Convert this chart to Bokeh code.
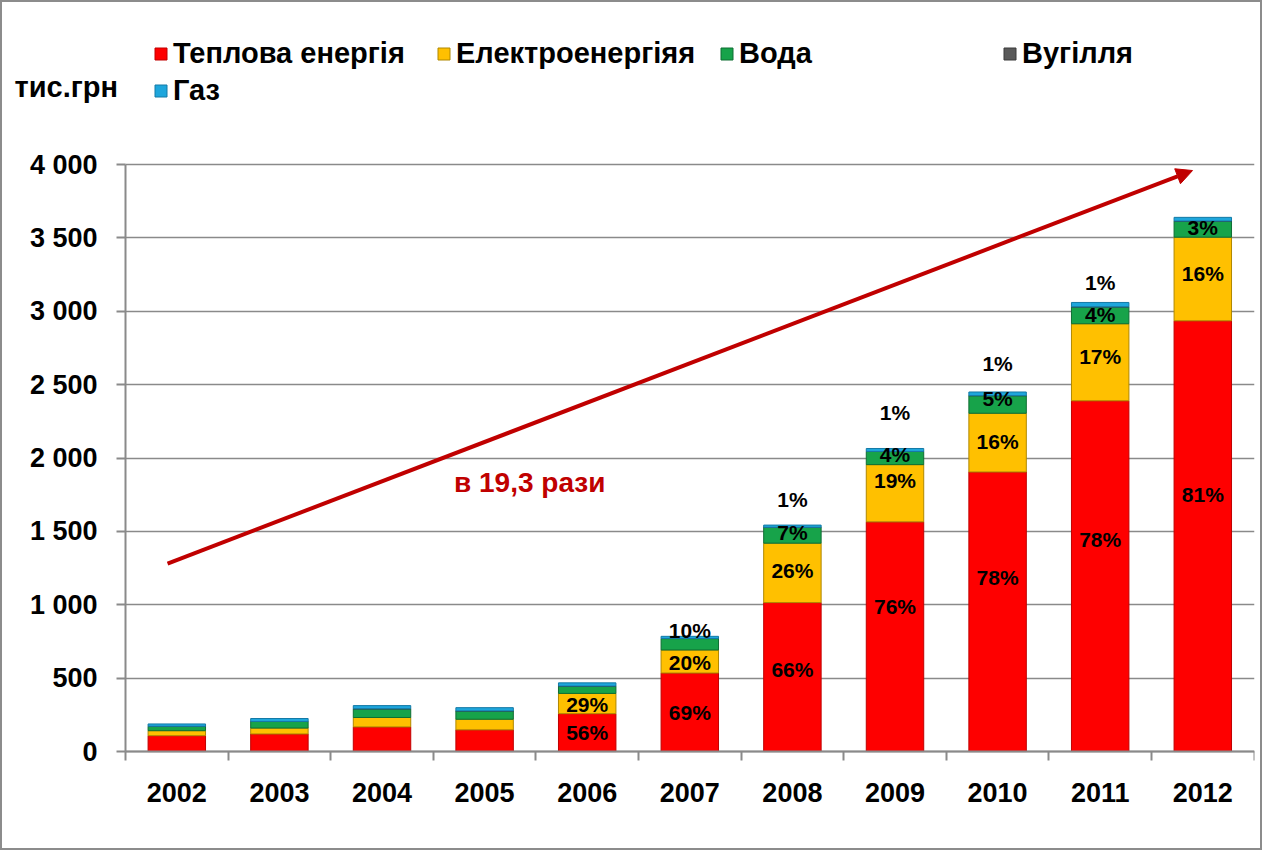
from bokeh.plotting import figure
from bokeh.models import (ColumnDataSource, FixedTicker, Range1d, Legend, LegendItem,
                          Label, Arrow, NormalHead, Grid)
from bokeh.core.properties import value
from bokeh.embed import file_html
from bokeh.resources import INLINE

# ---- data ----
years = ["2002", "2003", "2004", "2005", "2006", "2007", "2008", "2009", "2010", "2011", "2012"]
heat = [108, 120, 168, 148, 258, 535, 1015, 1565, 1905, 2390, 2935]
elec = [34, 40, 64, 72, 138, 157, 405, 390, 400, 525, 570]
water = [30, 45, 59, 57, 50, 78, 108, 90, 120, 115, 110]
coal = [0, 0, 0, 0, 0, 0, 0, 0, 0, 0, 0]
gas = [16, 20, 22, 22, 22, 15, 15, 20, 25, 30, 25]

series_names = ["Теплова енергія", "Електроенергіяя", "Вода", "Вугілля", "Газ"]

y_ticks = [0, 500, 1000, 1500, 2000, 2500, 3000, 3500, 4000]
y_tick_labels = ["0", "500", "1 000", "1 500", "2 000", "2 500", "3 000", "3 500", "4 000"]

# percentage labels: (year index, value position, text)
lab_year = [4, 4, 5, 5, 5, 6, 6, 6, 6, 7, 7, 7, 7, 8, 8, 8, 8, 9, 9, 9, 9, 10, 10, 10]
lab_val = [129, 320, 266, 606, 825, 559, 1233, 1492, 1717, 988, 1847, 2024, 2310,
           1186, 2112, 2405, 2644, 1445, 2692, 2978, 3196, 1751, 3257, 3571]
lab_text = ["56%", "29%", "69%", "20%", "10%", "66%", "26%", "7%", "1%", "76%", "19%", "4%", "1%",
            "78%", "16%", "5%", "1%", "78%", "17%", "4%", "1%", "81%", "16%", "3%"]

growth_text = "в 19,3 рази"
unit_text = "тис.грн"

# ---- styles ----
FONT = "Liberation Sans"
GRID = "#8a8a8a"
fills = ["#fe0000", "#ffc000", "#17a34a", "#5a5a5a", "#1ea6dc"]
lines = ["#c00000", "#b08800", "#0f6e33", "#3a3a3a", "#147aa6"]

n = len(years)
x_idx = list(range(n))
X0, X1 = -0.5, n - 0.5          # plotting area in category units
Y0, Y1 = y_ticks[0], y_ticks[-1]
src = ColumnDataSource(dict(x=x_idx, heat=heat, elec=elec, water=water, coal=coal, gas=gas))

# the frame covers the whole box (legend/unit label live inside it); axes are pinned
p = figure(width=1262, height=850, output_backend="svg", toolbar_location=None,
           x_range=Range1d(-1.699, 10.504), y_range=Range1d(-688, 5104),
           min_border_left=0, min_border_right=10, min_border_top=0, min_border_bottom=0)
p.styles = {"border": "2px solid #8c8c8c"}
p.outline_line_color = None
p.background_fill_color = "white"

# grid lines (restricted to the plotting area)
p.xgrid.visible = False
if "cross_bounds" in Grid.properties():
    p.ygrid.ticker = FixedTicker(ticks=y_ticks)
    p.ygrid.cross_bounds = (X0, X1)
    p.ygrid.grid_line_color = GRID
    p.ygrid.grid_line_width = 1.6
else:
    p.ygrid.visible = False
    p.segment(x0=[X0] * len(y_ticks), x1=[X1] * len(y_ticks), y0=y_ticks, y1=y_ticks,
              line_color=GRID, line_width=1.6)

renderers = p.vbar_stack(["heat", "elec", "water", "coal", "gas"], x="x", width=0.56, source=src,
                         fill_color=fills, line_color=lines, line_width=1)

# y axis pinned at the left edge of the plotting area
p.yaxis.fixed_location = X0
p.yaxis.bounds = (Y0, Y1)
p.yaxis.ticker = FixedTicker(ticks=y_ticks)
p.yaxis.major_label_overrides = {t: l for t, l in zip(y_ticks, y_tick_labels)}
p.yaxis.axis_line_color = GRID
p.yaxis.axis_line_width = 2
p.yaxis.major_tick_line_color = GRID
p.yaxis.major_tick_line_width = 2
p.yaxis.major_tick_out = 9
p.yaxis.major_tick_in = 0
p.yaxis.minor_tick_line_color = None
p.yaxis.major_label_standoff = 19
p.yaxis.major_label_text_font = FONT
p.yaxis.major_label_text_font_style = "bold"
p.yaxis.major_label_text_font_size = "27px"
p.yaxis.major_label_text_color = "black"

# x axis pinned at value 0
p.xaxis.fixed_location = Y0
p.xaxis.bounds = (X0, X1)
p.xaxis.ticker = FixedTicker(ticks=x_idx, minor_ticks=[i - 0.5 for i in range(n + 1)])
p.xaxis.major_label_overrides = {i: y for i, y in zip(x_idx, years)}
p.xaxis.axis_line_color = GRID
p.xaxis.axis_line_width = 2
p.xaxis.major_tick_line_color = None
p.xaxis.major_tick_out = 0
p.xaxis.major_tick_in = 0
p.xaxis.minor_tick_line_color = GRID
p.xaxis.minor_tick_line_width = 2
p.xaxis.minor_tick_out = 9
p.xaxis.minor_tick_in = 0
p.xaxis.major_label_standoff = 22
p.xaxis.major_label_text_font = FONT
p.xaxis.major_label_text_font_style = "bold"
p.xaxis.major_label_text_font_size = "27px"
p.xaxis.major_label_text_color = "black"

# percentage labels
lsrc = ColumnDataSource(dict(x=lab_year, y=lab_val, t=lab_text))
p.text(x="x", y="y", text="t", source=lsrc, text_align="center", text_baseline="middle",
       text_font=value(FONT), text_font_style="bold", text_font_size="21px", text_color="black")

# trend arrow and annotation
p.add_layout(Arrow(x_start=-0.09, y_start=1281, x_end=9.90, y_end=3959,
                   line_color="#c00000", line_width=4,
                   end=NormalHead(size=16, fill_color="#c00000", line_color="#c00000")))
p.add_layout(Label(x=3.44, y=1833, text=growth_text, text_align="center", text_baseline="middle",
                   text_font=FONT, text_font_style="bold", text_font_size="28px", text_color="#c00000"))

# unit label above the y axis
p.add_layout(Label(x=-1.582, y=4525, text=unit_text,
                   text_align="left", text_baseline="middle",
                   text_font=FONT, text_font_style="bold", text_font_size="29px", text_color="black"))

# legend (location = left/bottom in px from the frame's bottom-left)
items = [LegendItem(label=nm, renderers=[r]) for nm, r in zip(series_names, renderers)]
legend = Legend(items=items, location=(151, 743), ncols=4, orientation="horizontal",
                glyph_width=15, glyph_height=15, label_standoff=5, label_width=263, label_height=37,
                spacing=0, padding=0, margin=0, border_line_color=None, background_fill_alpha=0,
                label_text_font=FONT, label_text_font_style="bold", label_text_font_size="29px",
                label_text_color="black")
p.add_layout(legend, "center")

open("out.html", "w").write(file_html(p, INLINE))
